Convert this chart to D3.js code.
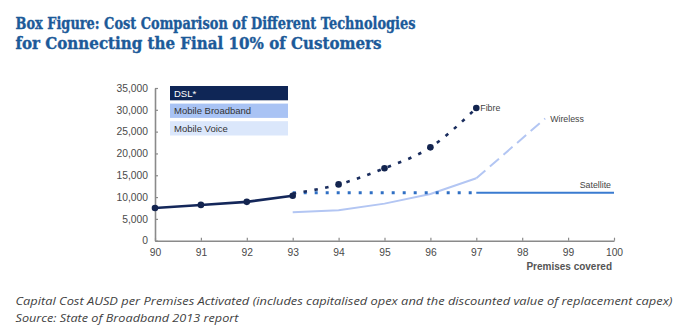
<!DOCTYPE html>
<html>
<head>
<meta charset="utf-8">
<script src="https://cdn.jsdelivr.net/npm/d3@7"></script>
<style>
  body { margin: 0; background: #fff; }
  svg { display: block; }
</style>
</head>
<body>
<svg id="chart" width="697" height="330"></svg>
<script>
// chart values
const years = [90, 91, 92, 93, 94, 95, 96, 97, 98, 99, 100];
const yTicks = [0, 5000, 10000, 15000, 20000, 25000, 30000, 35000];

const dslX = [90, 91, 92, 93];
const dslY = [7500, 8200, 8900, 10300];

const fibreX = [93, 94, 95, 96, 97];
const fibreY = [10800, 12900, 16600, 21400, 30400];

const satelliteX = [93, 97, 100];
const satelliteY = [11000, 11000, 11000];

const wirelessX = [93, 94, 95, 96, 97, 98.5];
const wirelessY = [6500, 7000, 8500, 10700, 14300, 28000];

const legendLabels = ["DSL*", "Mobile Broadband", "Mobile Voice"];

const titleLines = [
  "Box Figure: Cost Comparison of Different Technologies",
  "for Connecting the Final 10% of Customers"
];
const captionLines = [
  "Capital Cost AUSD per Premises Activated (includes capitalised opex and the discounted value of replacement capex)",
  "Source: State of Broadband 2013 report"
];

const svg = d3.select("#chart");

const x = d3.scaleLinear().domain([90, 100]).range([155, 614]);
const y = d3.scaleLinear().domain([0, 35000]).range([240.7, 88]);

const pts = (xs, ys) => xs.map((v, i) => [v, ys[i]]);
const line = d3.line().x(d => x(d[0])).y(d => y(d[1]));

// title
svg.append("g").selectAll("text")
   .data(titleLines)
   .enter().append("text")
   .attr("x", 15.5)
   .attr("y", (d, i) => 28.5 + i * 20)
   .attr("textLength", (d, i) => i === 0 ? 400 : 366)
   .attr("lengthAdjust", "spacingAndGlyphs")
   .style("font-family", "DejaVu Serif")
   .style("font-weight", "bold")
   .style("font-size", "17.5px")
   .style("fill", "#1c5a99")
   .style("stroke", "#1c5a99")
   .style("stroke-width", 0.4)
   .text(d => d);

// axes
const xAxis = svg.append("g")
   .attr("transform", `translate(0,${y(0)})`)
   .call(d3.axisBottom(x).tickValues(years).tickFormat(d => d).tickSizeInner(-3).tickSizeOuter(0).tickPadding(12));

const yAxis = svg.append("g")
   .attr("transform", `translate(${x(90)},0)`)
   .call(d3.axisLeft(y).tickValues(yTicks).tickFormat(d3.format(",")).tickSizeInner(-3).tickSizeOuter(0).tickPadding(7));

[xAxis, yAxis].forEach(g => {
  g.select(".domain").attr("stroke", "#8a8a8a").attr("stroke-width", 1.6);
  g.selectAll(".tick line").attr("stroke", "#8a8a8a").attr("stroke-width", 1.2);
  g.selectAll(".tick text")
   .style("font-family", "Liberation Sans, Arial, sans-serif")
   .style("font-size", "10.3px")
   .style("fill", "#4a4a4a");
});
xAxis.selectAll(".tick text").attr("dy", "0.35em");

svg.append("text")
   .attr("x", 612)
   .attr("y", 270)
   .attr("text-anchor", "end")
   .style("font-family", "Liberation Sans, Arial, sans-serif")
   .style("font-size", "10px")
   .style("font-weight", "bold")
   .style("fill", "#555")
   .text("Premises covered");

// legend
const legendColors = ["#0f2656", "#a9c3f4", "#dbe7fb"];
const legend = svg.append("g").attr("transform", "translate(170,86)");
legend.selectAll("rect")
   .data(legendLabels)
   .enter().append("rect")
   .attr("x", 0)
   .attr("y", (d, i) => i * 17.6)
   .attr("width", 118)
   .attr("height", 14.3)
   .attr("fill", (d, i) => legendColors[i]);
legend.selectAll("text")
   .data(legendLabels)
   .enter().append("text")
   .attr("x", 4)
   .attr("y", (d, i) => i * 17.6 + 10.6)
   .style("font-family", "Liberation Sans, Arial, sans-serif")
   .style("font-size", "9.5px")
   .style("fill", (d, i) => i === 0 ? "#fff" : "#333")
   .text(d => d);

// wireless: solid up to 97, dashed after
const wirelessPts = pts(wirelessX, wirelessY);
svg.append("path")
   .attr("d", line(wirelessPts.slice(0, 5)))
   .attr("fill", "none")
   .attr("stroke", "#b3c6f3")
   .attr("stroke-width", 2);
svg.append("path")
   .attr("d", line(wirelessPts.slice(4)))
   .attr("fill", "none")
   .attr("stroke", "#b3c6f3")
   .attr("stroke-width", 2)
   .attr("stroke-dasharray", "12,6");

// satellite: dotted to 97, solid after
const satPts = pts(satelliteX, satelliteY);
svg.append("path")
   .attr("d", line(satPts.slice(0, 2)))
   .attr("fill", "none")
   .attr("stroke", "#2f6fc4")
   .attr("stroke-width", 3)
   .attr("stroke-dasharray", "3,8");
svg.append("path")
   .attr("d", line(satPts.slice(1)))
   .attr("fill", "none")
   .attr("stroke", "#3a7bd0")
   .attr("stroke-width", 2);

// fibre dotted line with markers
const fibrePts = pts(fibreX, fibreY);
svg.append("path")
   .attr("d", line.curve(d3.curveMonotoneX)(fibrePts))
   .attr("fill", "none")
   .attr("stroke", "#1a2d5e")
   .attr("stroke-width", 2.6)
   .attr("stroke-dasharray", "3.5,7.5");
line.curve(d3.curveLinear);
svg.selectAll(".fibre-dot")
   .data(fibrePts.slice(1))
   .enter().append("circle")
   .attr("class", "fibre-dot")
   .attr("cx", d => x(d[0]))
   .attr("cy", d => y(d[1]))
   .attr("r", 3.3)
   .attr("fill", "#13244f");

// DSL
const dslPts = pts(dslX, dslY);
svg.append("path")
   .attr("d", line(dslPts))
   .attr("fill", "none")
   .attr("stroke", "#14275a")
   .attr("stroke-width", 2.6);
svg.selectAll(".dsl-dot")
   .data(dslPts)
   .enter().append("circle")
   .attr("class", "dsl-dot")
   .attr("cx", d => x(d[0]))
   .attr("cy", d => y(d[1]))
   .attr("r", 3.3)
   .attr("fill", "#13244f");

// series labels
const labelStyle = sel => sel
   .style("font-family", "Liberation Sans, Arial, sans-serif")
   .style("font-size", "8.8px")
   .style("fill", "#444");
svg.append("text").call(labelStyle)
   .attr("x", x(fibreX[4]) + 4).attr("y", y(fibreY[4]) + 3)
   .text("Fibre");
svg.append("text").call(labelStyle)
   .attr("x", x(wirelessX[5]) + 5).attr("y", y(wirelessY[5]) + 3)
   .text("Wireless");
svg.append("text").call(labelStyle)
   .attr("x", x(100) - 3).attr("y", y(satelliteY[2]) - 5)
   .attr("text-anchor", "end")
   .text("Satellite");

// caption
svg.append("g").selectAll("text")
   .data(captionLines)
   .enter().append("text")
   .attr("x", 15.5)
   .attr("y", (d, i) => 305 + i * 16.5)
   .attr("textLength", (d, i) => i === 0 ? 657 : 223)
   .attr("lengthAdjust", "spacingAndGlyphs")
   .style("font-family", "Open Sans, sans-serif")
   .style("font-style", "italic")
   .style("font-size", "11.5px")
   .style("fill", "#3f3f3f")
   .text(d => d);
</script>
</body>
</html>
